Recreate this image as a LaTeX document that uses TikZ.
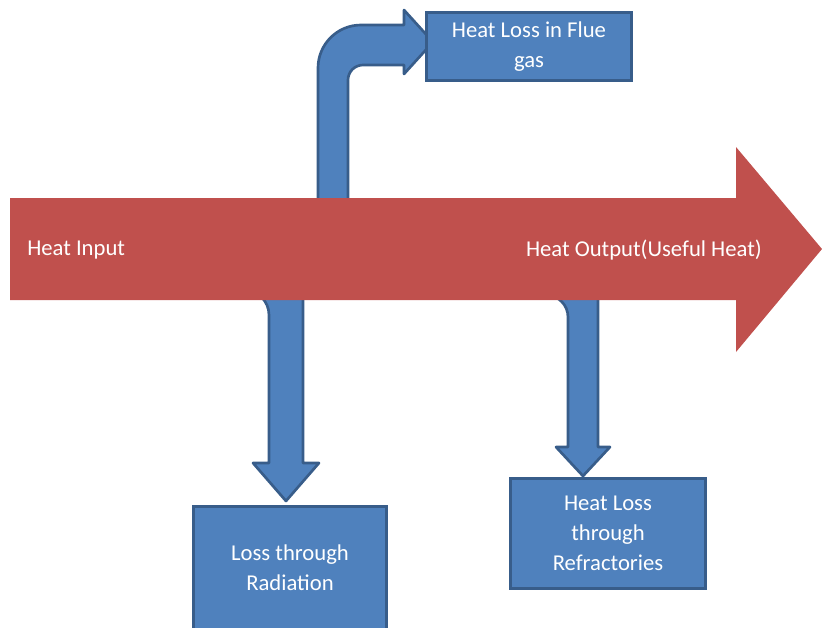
\documentclass[tikz,border=0pt]{standalone}
\usepackage{fontspec}
\setmainfont{Carlito}
\usetikzlibrary{positioning}
\definecolor{lossBlue}{RGB}{79,129,189}
\definecolor{lossEdge}{RGB}{56,93,138}
\definecolor{heatRed}{RGB}{192,80,77}
\newcommand{\lossfont}{\fontsize{17}{22.5}\selectfont}
\tikzset{
    bent/.style={fill=lossBlue, draw=lossEdge, line width=2pt, line join=round},
    lossbox/.style={rectangle, fill=lossBlue, draw=lossEdge, line width=2.25pt,
        align=center, text=white, font=\lossfont},
    flow/.style={fill=heatRed},
    flowtext/.style={text=white, font=\lossfont, inner sep=0pt}
}

\begin{document}
\begin{tikzpicture}[x=0.75pt, y=-0.75pt]
    \useasboundingbox (0,0) rectangle (822,628);

    % Loss arrows (their bends sit behind the main flow)
    \draw[bent] (318,230) -- (318,68) .. controls (318,44.25) and (337.25,25) .. (361,25)
        -- (404,25) -- (404,10) -- (433,42) -- (404,74) -- (404,65) -- (363,65)
        .. controls (354.7,65) and (348,71.7) .. (348,80) -- (348,230) -- cycle;
    \draw[bent] (200,240) -- (303,240) -- (303,463) -- (319,463) -- (286,501)
        -- (253,463) -- (269,463) -- (269,315)
        .. controls (269,301.2) and (257.8,290) .. (244,290) -- (200,290) -- cycle;
    \draw[bent] (500,240) -- (598,240) -- (598,447) -- (610,447) -- (583,476)
        -- (556,447) -- (568,447) -- (568,317)
        .. controls (568,304.9) and (558.1,295) .. (546,295) -- (500,295) -- cycle;

    % Main heat flow
    \fill[flow] (10,198) -- (736,198) -- (736,147) -- (822,249) -- (736,352)
        -- (736,300) -- (10,300) -- cycle;
    \node[flowtext, anchor=west] (input) at (27,250) {Heat Input};
    \node[flowtext, anchor=east] (output) at (762,250) {Heat Output(Useful Heat)};

    % Boxes for the losses
    \node[lossbox, minimum width=153.75pt, minimum height=51pt] (flue) at (529,46.5)
        {Heat Loss in Flue\\gas};
    \node[lossbox, minimum width=144.75pt, minimum height=92.25pt] (rad) at (290,568)
        {Loss through\\Radiation};
    \node[lossbox, minimum width=146.25pt, minimum height=82.5pt] (refr) at (608,533.5)
        {Heat Loss\\through\\Refractories};
\end{tikzpicture}
\end{document}
